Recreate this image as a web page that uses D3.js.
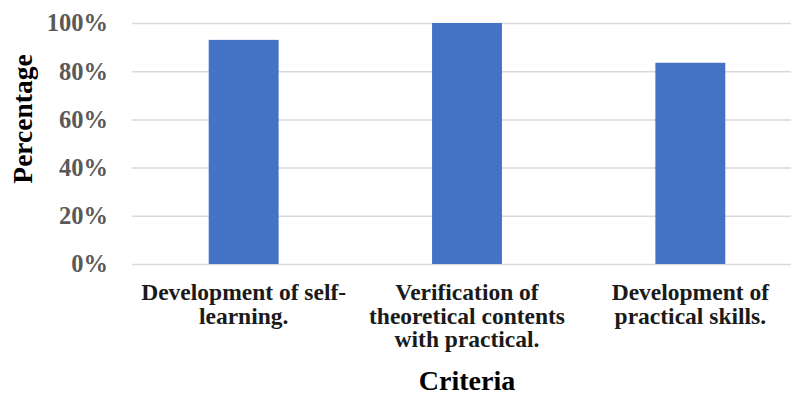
<!DOCTYPE html>
<html>
<head>
<meta charset="utf-8">
<script src="https://cdn.jsdelivr.net/npm/d3@7"></script>
<style>
	body { margin: 0; background: #fff; }
	svg { display: block; }
</style>
</head>
<body>
<div id="main"></div>
<script>
// ===========================Data=======================
var categories = ['self', 'verify', 'practical'];
var categoryLines = [
	['Development of self-', 'learning.'],
	['Verification of', 'theoretical contents', 'with practical.'],
	['Development of', 'practical skills.']
];
var percentages = [0.93, 1.00, 0.835];
var yTicks = [0, 0.2, 0.4, 0.6, 0.8, 1.0];

// ===========================Config=======================
const svgResolution = {
	"width": 791,
	"height": 395,
};
const plot = { left: 132, right: 802, top: 23, bottom: 264 };
const barColor = '#4472C4';
const gridColor = '#d9d9d9';
const fontFamily = '"Liberation Serif", "Times New Roman", serif';

// ======================svg container===================
const svgContainer = d3.select('#main').append('svg')
					.attr('width', svgResolution['width'])
					.attr('height', svgResolution['height'])
					.style('font-family', fontFamily);

// scales
var x_scale = d3.scaleBand()
			.domain(categories)
			.range([plot.left, plot.right])
			.paddingInner(0.687)
			.paddingOuter(0.3435);

var y_scale = d3.scaleLinear()
			.domain([0, 1])
			.range([plot.bottom, plot.top]);

// y axis, used for gridlines and percent labels
var y_axis = d3.axisLeft()
			.scale(y_scale)
			.tickValues(yTicks)
			.tickSize(-(plot.right - plot.left))
			.tickPadding(24)
			.tickFormat(d3.format('.0%'));

var yAxisG = svgContainer.append('g')
			.attr('transform', 'translate(' + plot.left + ',0)')
			.call(y_axis);
yAxisG.select('.domain').remove();
yAxisG.selectAll('.tick line')
	.attr('stroke', gridColor)
	.attr('stroke-width', 1.5);
yAxisG.selectAll('.tick text')
	.attr('fill', '#595959')
	.style('font-size', '24.5px')
	.style('font-weight', 'bold')
	.style('font-family', fontFamily);

// bars
svgContainer.selectAll('rect.bar')
	.data(percentages)
	.enter()
	.append('rect')
	.attr('class', 'bar')
	.attr('x', (d, i) => x_scale(categories[i]))
	.attr('width', x_scale.bandwidth())
	.attr('y', d => y_scale(d))
	.attr('height', d => y_scale(0) - y_scale(d))
	.attr('fill', barColor);

// x axis with multi-line category labels
var x_axis = d3.axisBottom()
			.scale(x_scale)
			.tickSize(0)
			.tickFormat('');

var xAxisG = svgContainer.append('g')
			.attr('transform', 'translate(0,' + plot.bottom + ')')
			.call(x_axis);
xAxisG.select('.domain').remove();
xAxisG.selectAll('.tick').each(function(d, i){
	var txt = d3.select(this).append('text')
		.attr('fill', '#1a1a1a')
		.attr('text-anchor', 'middle')
		.style('font-family', fontFamily)
		.style('font-size', '23.5px')
		.style('font-weight', 'bold');
	categoryLines[i].forEach(function(line, j){
		txt.append('tspan')
			.attr('x', 0)
			.attr('y', 36 + j * 23.5)
			.text(line);
	});
});

// axis titles
svgContainer.append('text')
	.attr('transform', 'translate(32,119) rotate(-90)')
	.attr('text-anchor', 'middle')
	.attr('fill', '#000')
	.style('font-size', '27.5px')
	.style('font-weight', 'bold')
	.text('Percentage');

svgContainer.append('text')
	.attr('x', x_scale('verify') + x_scale.bandwidth() / 2)
	.attr('y', 390)
	.attr('text-anchor', 'middle')
	.attr('fill', '#000')
	.style('font-size', '28px')
	.style('font-weight', 'bold')
	.text('Criteria');
</script>
</body>
</html>
